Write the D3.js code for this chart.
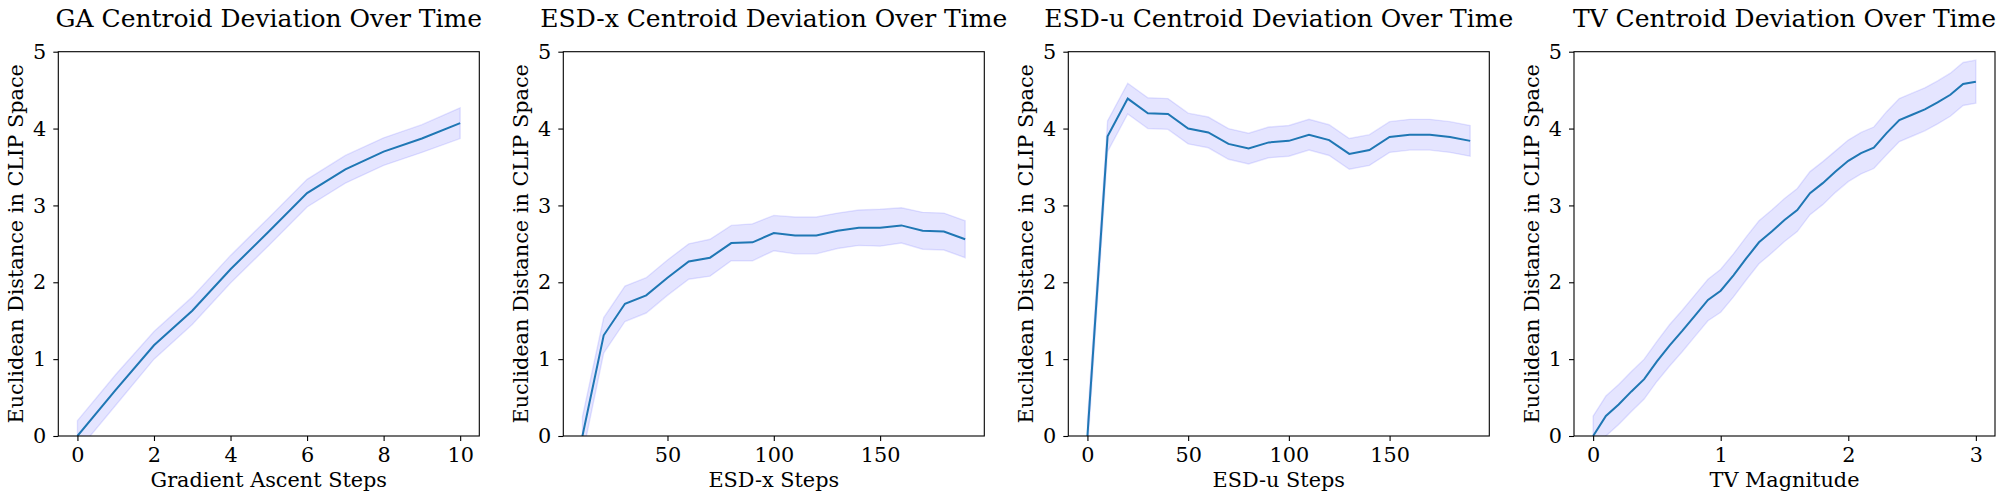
<!DOCTYPE html>
<html>
<head>
<meta charset="utf-8">
<script src="https://cdn.jsdelivr.net/npm/d3@7"></script>
<style>
  body { margin: 0; background: #fff; }
  svg text { font-family: "DejaVu Serif", serif; fill: #000; }
</style>
</head>
<body>
<svg id="fig" width="2006" height="499"></svg>
<script>
// values
var gaSteps = [0, 1, 2, 3, 4, 5, 6, 7, 8, 9, 10];
var gaMean  = [0, 0.60, 1.18, 1.63, 2.17, 2.66, 3.16, 3.47, 3.70, 3.87, 4.07];
var gaErr   = [0.20, 0.20, 0.18, 0.18, 0.18, 0.18, 0.18, 0.18, 0.18, 0.18, 0.20];

var esdxSteps = [10, 20, 30, 40, 50, 60, 70, 80, 90, 100, 110, 120, 130, 140, 150, 160, 170, 180, 190];
var esdxMean  = [0, 1.31, 1.72, 1.83, 2.06, 2.27, 2.32, 2.51, 2.52, 2.64, 2.61, 2.61, 2.67, 2.71, 2.71, 2.74, 2.67, 2.66, 2.56];
var esdxErr   = [0.25, 0.23, 0.23, 0.23, 0.23, 0.23, 0.24, 0.23, 0.24, 0.23, 0.24, 0.24, 0.23, 0.23, 0.24, 0.23, 0.24, 0.24, 0.24];

var esduSteps = [0, 10, 20, 30, 40, 50, 60, 70, 80, 90, 100, 110, 120, 130, 140, 150, 160, 170, 180, 190];
var esduMean  = [0, 3.90, 4.39, 4.20, 4.19, 4.00, 3.95, 3.80, 3.74, 3.82, 3.84, 3.92, 3.85, 3.67, 3.72, 3.89, 3.92, 3.92, 3.89, 3.84];
var esduErr   = [0.20, 0.20, 0.20, 0.20, 0.20, 0.20, 0.20, 0.20, 0.20, 0.20, 0.20, 0.20, 0.20, 0.20, 0.20, 0.20, 0.20, 0.20, 0.20, 0.20];

var tvMag  = [0, 0.1, 0.2, 0.3, 0.4, 0.5, 0.6, 0.7, 0.8, 0.9, 1.0, 1.1, 1.2, 1.3, 1.4, 1.5, 1.6, 1.7, 1.8, 1.9, 2.0,
              2.1, 2.2, 2.3, 2.4, 2.5, 2.6, 2.7, 2.8, 2.9, 3.0];
var tvMean = [0, 0.26, 0.41, 0.58, 0.74, 0.97, 1.18, 1.37, 1.57, 1.77, 1.89, 2.09, 2.31, 2.52, 2.66, 2.81, 2.94, 3.16, 3.29, 3.44, 3.58,
              3.68, 3.75, 3.94, 4.11, 4.18, 4.25, 4.34, 4.44, 4.58, 4.61];
var tvErr  = [0.26, 0.26, 0.26, 0.26, 0.26, 0.26, 0.27, 0.27, 0.27, 0.27, 0.28, 0.28, 0.28, 0.28, 0.28, 0.28, 0.28, 0.28, 0.28, 0.27, 0.27,
              0.27, 0.27, 0.28, 0.28, 0.28, 0.28, 0.28, 0.28, 0.28, 0.28];

var titles  = ["GA Centroid Deviation Over Time", "ESD-x Centroid Deviation Over Time",
               "ESD-u Centroid Deviation Over Time", "TV Centroid Deviation Over Time"];
var xLabels = ["Gradient Ascent Steps", "ESD-x Steps", "ESD-u Steps", "TV Magnitude"];
var yLabel  = "Euclidean Distance in CLIP Space";
var xTicks  = [[0, 2, 4, 6, 8, 10], [50, 100, 150], [0, 50, 100, 150], [0, 1, 2, 3]];
var yTicks  = [0, 1, 2, 3, 4, 5];

(function () {
  var panels = [
    { x: gaSteps, y: gaMean, e: gaErr },
    { x: esdxSteps, y: esdxMean, e: esdxErr },
    { x: esduSteps, y: esduMean, e: esduErr },
    { x: tvMag, y: tvMean, e: tvErr }
  ];

  var lefts = [58.3, 563.3, 1068.3, 1574];
  var axTop = 51.7, w = 421, h = 384.3;
  var svg = d3.select("#fig");

  panels.forEach(function (p, i) {
    var ext = d3.extent(p.x), pad = (ext[1] - ext[0]) * 0.05;
    var x = d3.scaleLinear().domain([ext[0] - pad, ext[1] + pad]).range([0, w]);
    var y = d3.scaleLinear().domain([0, 5]).range([h, 0]);
    var pts = p.x.map(function (v, k) { return { x: v, y: p.y[k], e: p.e[k] }; });

    var g = svg.append("g").attr("transform", "translate(" + lefts[i] + "," + axTop + ")");

    g.append("clipPath").attr("id", "clip" + i)
      .append("rect").attr("width", w).attr("height", h);

    var plot = g.append("g").attr("clip-path", "url(#clip" + i + ")");

    plot.append("path").datum(pts)
      .attr("d", d3.area().x(function (d) { return x(d.x); })
        .y0(function (d) { return y(d.y - d.e); })
        .y1(function (d) { return y(d.y + d.e); }))
      .attr("fill", "blue").attr("fill-opacity", 0.1)
      .attr("stroke", "blue").attr("stroke-opacity", 0.1).attr("stroke-width", 1.4);

    plot.append("path").datum(pts)
      .attr("d", d3.line().x(function (d) { return x(d.x); }).y(function (d) { return y(d.y); }))
      .attr("fill", "none").attr("stroke", "#1f77b4").attr("stroke-width", 2);

    var xa = g.append("g").attr("transform", "translate(0," + h + ")")
      .call(d3.axisBottom(x).tickValues(xTicks[i]).tickSize(5).tickPadding(6).tickFormat(d3.format("d")));
    var ya = g.append("g")
      .call(d3.axisLeft(y).tickValues(yTicks).tickSize(5).tickPadding(7).tickFormat(d3.format("d")));
    [xa, ya].forEach(function (a) {
      a.select(".domain").remove();
      a.selectAll("line").attr("stroke", "#000").attr("stroke-width", 1.1);
      a.selectAll("text").style("font-family", "DejaVu Serif").style("font-size", "20.8px");
    });

    g.append("rect").attr("width", w).attr("height", h)
      .attr("fill", "none").attr("stroke", "#000").attr("stroke-width", 1.1);

    g.append("text").attr("x", w / 2).attr("y", -24.4)
      .attr("text-anchor", "middle").style("font-size", "25px").text(titles[i]);

    g.append("text").attr("x", w / 2).attr("y", h + 51)
      .attr("text-anchor", "middle").style("font-size", "20.8px").text(xLabels[i]);

    g.append("text").attr("transform", "translate(-35," + (h / 2) + ") rotate(-90)")
      .attr("text-anchor", "middle").style("font-size", "20.8px").text(yLabel);
  });
})();
</script>
</body>
</html>
